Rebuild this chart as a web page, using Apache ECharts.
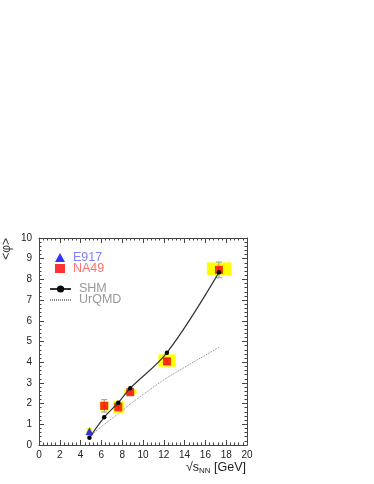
<!DOCTYPE html>
<html>
<head>
<meta charset="utf-8">
<script src="https://cdn.jsdelivr.net/npm/echarts@6/dist/echarts.min.js"></script>
<style>html,body{margin:0;padding:0;background:#fff;}#c{width:374px;height:484px;}</style>
</head>
<body>
<div id="c"></div>
<script>
// ---- data ----
const xTicks = [0, 2, 4, 6, 8, 10, 12, 14, 16, 18, 20];
const yTicks = [0, 1, 2, 3, 4, 5, 6, 7, 8, 9, 10];

const e917X = [4.85];
const e917Y = [0.66];
const e917SysLow = [0.52];
const e917SysHigh = [0.84];
const e917BoxXLow = [4.58];
const e917BoxXHigh = [5.12];

const na49X = [6.27, 7.62, 8.77, 12.3, 17.3];
const na49Y = [1.89, 1.84, 2.55, 4.04, 8.46];
const na49StatErr = [0.3, 0.2, 0.1, 0.15, 0.38];
const na49SysLow = [1.66, 1.55, 2.45, 3.78, 8.21];
const na49SysHigh = [2.13, 2.14, 2.67, 4.38, 8.82];
const na49BoxXLow = [5.88, 7.14, 8.2, 11.48, 16.14];
const na49BoxXHigh = [6.69, 8.2, 9.39, 13.15, 18.49];

const shmX = [4.85, 6.27, 7.62, 8.77, 12.3, 17.3];
const shmY = [0.35, 1.34, 2.04, 2.74, 4.46, 8.34];

const urqmdX = [4.9, 6.27, 7.62, 8.77, 10.7, 12.3, 17.3];
const urqmdY = [0.42, 1.0, 1.5, 1.98, 2.69, 3.25, 4.72];

// ---- build ----
const zip = (a, b) => a.map((v, i) => [v, b[i]]);
const boxData = e917X.map((x, i) => [x, e917SysLow[i], e917SysHigh[i], e917BoxXLow[i], e917BoxXHigh[i]])
  .concat(na49X.map((x, i) => [x, na49SysLow[i], na49SysHigh[i], na49BoxXLow[i], na49BoxXHigh[i]]));
const errData = na49X.map((x, i) => [x, na49Y[i] - na49StatErr[i], na49Y[i] + na49StatErr[i]]);

const FONT = 'Liberation Sans, Arial, sans-serif';
const chart = echarts.init(document.getElementById('c'), null, {renderer: 'canvas'});

const axisCommonX = {
  type: 'value', min: xTicks[0], max: xTicks[xTicks.length - 1], interval: 2,
  axisLine: {show: true, onZero: false, lineStyle: {color: '#444', width: 1}},
  axisTick: {show: true, inside: true, length: 5, lineStyle: {color: '#444'}},
  minorTick: {show: true, splitNumber: 5, length: 2.5, lineStyle: {color: '#444'}},
  splitLine: {show: false}
};
const axisCommonY = {
  type: 'value', min: yTicks[0], max: yTicks[yTicks.length - 1], interval: 1,
  axisLine: {show: true, onZero: false, lineStyle: {color: '#444', width: 1}},
  axisTick: {show: true, inside: true, length: 5, lineStyle: {color: '#444'}},
  minorTick: {show: true, splitNumber: 5, length: 2.5, lineStyle: {color: '#444'}},
  splitLine: {show: false}
};

chart.setOption({
  animation: false,
  backgroundColor: '#fff',
  grid: {left: 39, top: 238, width: 208, height: 207, containLabel: false},
  xAxis: [
    Object.assign({}, axisCommonX, {position: 'bottom',
      axisLabel: {show: true, fontFamily: FONT, fontSize: 10, color: '#222', margin: 5,
        formatter: v => xTicks.includes(v) ? String(v) : ''}}),
    Object.assign({}, axisCommonX, {position: 'top', axisLabel: {show: false}})
  ],
  yAxis: [
    Object.assign({}, axisCommonY, {position: 'left',
      axisLabel: {show: true, fontFamily: FONT, fontSize: 10, color: '#222', margin: 7,
        formatter: v => yTicks.includes(v) ? String(v) : ''}}),
    Object.assign({}, axisCommonY, {position: 'right', axisLabel: {show: false}})
  ],
  legend: [
    {
      left: 55, top: 251, padding: 0, orient: 'vertical', itemGap: -2, itemWidth: 10, itemHeight: 9,
      textStyle: {fontFamily: FONT, fontSize: 12.5, padding: [0, 0, 0, 3]},
      data: [
        {name: 'E917', icon: 'triangle', textStyle: {color: '#8080ff'}},
        {name: 'NA49', icon: 'rect', textStyle: {color: '#ff7070'}}
      ]
    },
    {
      left: 49, top: 282.5, padding: 0, orient: 'vertical', itemGap: -2, itemWidth: 21, itemHeight: 9,
      textStyle: {fontFamily: FONT, fontSize: 12.5, color: '#999', padding: [0, 0, 0, 3]},
      data: [
        {name: 'SHM'},
        {name: 'UrQMD', itemStyle: {color: 'rgba(0,0,0,0)', borderWidth: 0}}
      ]
    }
  ],
  graphic: [
    {type: 'text', left: 1, top: 238, rotation: Math.PI / 2,
      style: {text: '<φ>', font: '12px ' + FONT, fill: '#333'}},
    {type: 'text', right: 128, top: 461,
      style: {
        rich: {
          n: {fontFamily: FONT, fontSize: 12.5, fill: '#222'},
          s: {fontFamily: FONT, fontSize: 8, fill: '#222', padding: [6, 0, 0, 0]}
        },
        text: '{n|√s}{s|NN}{n| [GeV]}'
      }}
  ],
  series: [
    {
      type: 'custom', name: 'sys', xAxisIndex: 0, yAxisIndex: 0, z: 1, silent: true,
      data: boxData,
      renderItem: (params, api) => {
        const p1 = api.coord([api.value(3), api.value(2)]);
        const p2 = api.coord([api.value(4), api.value(1)]);
        return {type: 'rect', shape: {x: p1[0], y: p1[1], width: p2[0] - p1[0], height: p2[1] - p1[1]},
          style: {fill: '#ffff00'}};
      }
    },
    {
      type: 'custom', name: 'stat', xAxisIndex: 0, yAxisIndex: 0, z: 2, silent: true,
      data: errData,
      renderItem: (params, api) => {
        const lo = api.coord([api.value(0), api.value(1)]);
        const hi = api.coord([api.value(0), api.value(2)]);
        const st = {stroke: '#999', lineWidth: 1};
        return {type: 'group', children: [
          {type: 'line', shape: {x1: lo[0], y1: lo[1], x2: hi[0], y2: hi[1]}, style: st},
          {type: 'line', shape: {x1: hi[0] - 3, y1: hi[1], x2: hi[0] + 3, y2: hi[1]}, style: st},
          {type: 'line', shape: {x1: lo[0] - 3, y1: lo[1], x2: lo[0] + 3, y2: lo[1]}, style: st}
        ]};
      }
    },
    {
      type: 'scatter', name: 'E917', z: 3, symbol: 'triangle', symbolSize: 8,
      itemStyle: {color: '#0000ff'}, data: zip(e917X, e917Y)
    },
    {
      type: 'scatter', name: 'NA49', z: 3, symbol: 'rect', symbolSize: 8,
      itemStyle: {color: '#ff0000'}, data: zip(na49X, na49Y)
    },
    {
      type: 'line', name: 'UrQMD', z: 4, symbol: 'none', smooth: 0.2,
      lineStyle: {color: '#888', width: 1, type: [1, 1]}, itemStyle: {color: '#888'},
      data: zip(urqmdX, urqmdY)
    },
    {
      type: 'line', name: 'SHM', z: 5, symbol: 'circle', symbolSize: 4.5, smooth: 0.35,
      lineStyle: {color: '#333', width: 1.2}, itemStyle: {color: '#000'},
      data: zip(shmX, shmY)
    }
  ]
});
</script>
</body>
</html>
